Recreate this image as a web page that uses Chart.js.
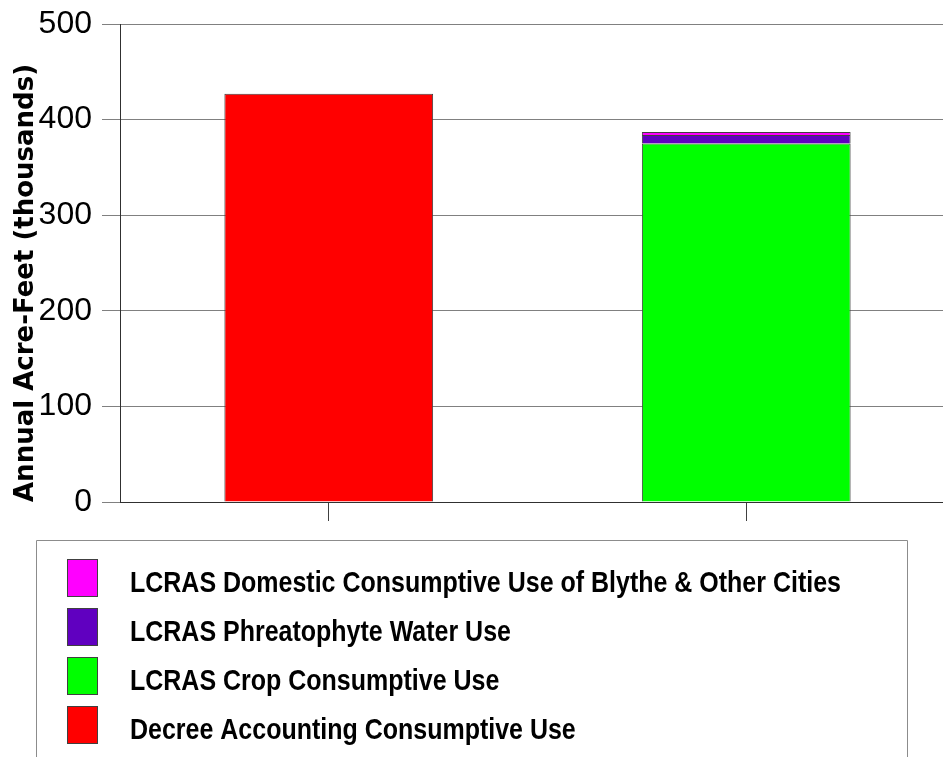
<!DOCTYPE html>
<html>
<head>
<meta charset="utf-8">
<script src="https://cdn.jsdelivr.net/npm/chart.js@4.4.1/dist/chart.umd.min.js"></script>
<style>
  html, body { margin: 0; padding: 0; background: #ffffff; overflow: hidden; }
  #wrap { position: relative; width: 955px; height: 757px; }
</style>
</head>
<body>
<div id="wrap"><canvas id="c" width="955" height="757"></canvas></div>
<script>
// ---- data ----
const categories = ['Decree Accounting', 'LCRAS'];
const decreeUse = [427, null];
const cropUse = [null, 375];
const phreatophyteUse = [null, 9];
const domesticUse = [null, 3];
const yTicks = [0, 100, 200, 300, 400, 500];
const seriesNames = [
  'Decree Accounting Consumptive Use',
  'LCRAS Crop Consumptive Use',
  'LCRAS Phreatophyte Water Use',
  'LCRAS Domestic Consumptive Use of Blythe & Other Cities'
];
const seriesColors = ['#ff0000', '#00ff00', '#6000c0', '#ff00ff'];
const yTitle = 'Annual Acre-Feet (thousands)';

// ---- font detection (narrow font available?) ----
const probe = document.createElement('canvas').getContext('2d');
probe.font = 'bold 30px "Liberation Sans Narrow", monospace';
const wN = probe.measureText('Consumptive Use').width;
probe.font = 'bold 30px monospace';
const wM = probe.measureText('Consumptive Use').width;
const hasNarrow = Math.abs(wN - wM) > 0.5;
const narrowFamily = hasNarrow ? '"Liberation Sans Narrow", "Liberation Sans", Arial, sans-serif' : '"Liberation Sans", Arial, sans-serif';
const tickSize = hasNarrow ? 37 : 32;
const legendScale = hasNarrow ? 1 : 0.833;

const seriesValues = [decreeUse, cropUse, phreatophyteUse, domesticUse];

const legendPlugin = {
  id: 'boxLegend',
  afterDraw(chart) {
    const ctx = chart.ctx;
    ctx.save();
    ctx.strokeStyle = '#8c8c8c';
    ctx.lineWidth = 1;
    ctx.beginPath();
    ctx.moveTo(36.5, 770);
    ctx.lineTo(36.5, 540.5);
    ctx.lineTo(907.5, 540.5);
    ctx.lineTo(907.5, 770);
    ctx.stroke();
    const ds = chart.data.datasets.slice().reverse();
    ds.forEach((d, i) => {
      const top = 559 + i * 49;
      ctx.fillStyle = d.backgroundColor;
      ctx.fillRect(67, top, 31, 38);
      ctx.strokeStyle = '#404040';
      ctx.strokeRect(67.5, top + 0.5, 30, 37);
      ctx.save();
      ctx.translate(130, top + 33);
      ctx.scale(legendScale, 1);
      ctx.fillStyle = '#000000';
      ctx.font = 'bold 30px ' + narrowFamily;
      ctx.textBaseline = 'alphabetic';
      ctx.fillText(d.label, 0, 0);
      ctx.restore();
    });
    ctx.restore();
  }
};

new Chart(document.getElementById('c'), {
  type: 'bar',
  data: {
    labels: categories,
    datasets: seriesValues.map((v, i) => ({
      label: seriesNames[i],
      data: v,
      backgroundColor: seriesColors[i],
      borderColor: '#404040',
      borderWidth: 1,
      barPercentage: 0.5,
      categoryPercentage: 1.0,
      stack: 's'
    }))
  },
  options: {
    responsive: false,
    animation: false,
    devicePixelRatio: 1,
    layout: { padding: { left: 11, right: 0, top: 0, bottom: 236 } },
    plugins: { legend: { display: false }, tooltip: { enabled: false } },
    scales: {
      x: {
        stacked: true,
        offset: true,
        grid: { display: true, drawOnChartArea: false, drawTicks: true, tickLength: 19, offset: false, color: '#404040' },
        border: { display: true, color: '#303030', width: 1 },
        ticks: { display: false }
      },
      y: {
        stacked: true,
        min: 0,
        max: 500,
        afterBuildTicks: (s) => { s.ticks = yTicks.map(v => ({ value: v })); },
        afterFit: (s) => { s.width = 109; s.paddingTop = 24; },
        grid: { color: '#808080', lineWidth: 1, tickLength: 18, tickColor: '#808080' },
        border: { display: true, color: '#303030', width: 1 },
        ticks: {
          color: '#000000',
          padding: 10,
          font: { family: narrowFamily, size: tickSize, lineHeight: 1.2 }
        },
        title: {
          display: true,
          text: yTitle,
          align: 'start',
          color: '#000000',
          padding: { top: 0, bottom: 0 },
          font: { family: '"DejaVu Sans", sans-serif', size: 26, weight: 'bold', lineHeight: 1.2 }
        }
      }
    }
  },
  plugins: [legendPlugin]
});
</script>
</body>
</html>
